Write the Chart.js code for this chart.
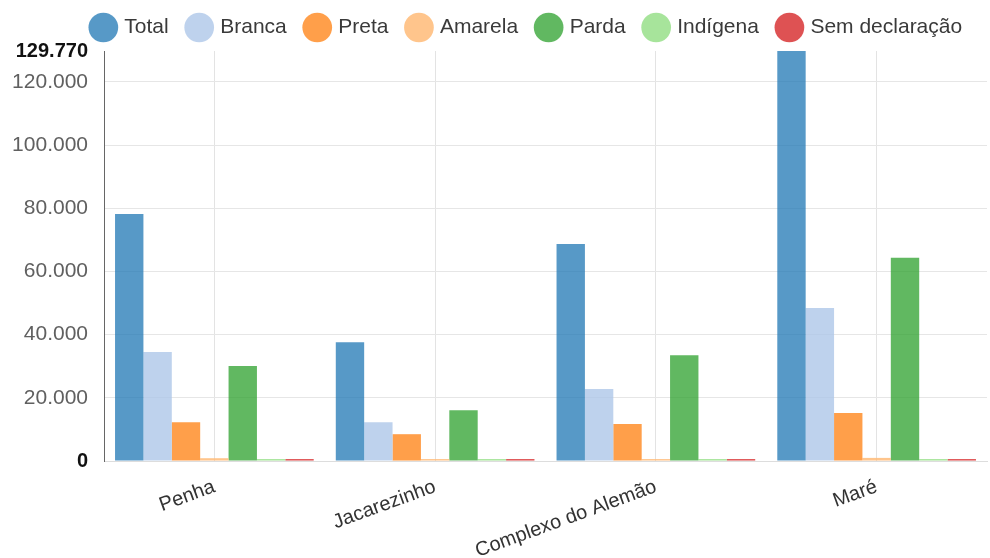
<!DOCTYPE html>
<html>
<head>
<meta charset="utf-8">
<script src="https://cdn.jsdelivr.net/npm/chart.js@4"></script>
<style>
  html, body { margin: 0; padding: 0; background: #fff; }
  #wrap { width: 990px; height: 558px; }
</style>
</head>
<body>
<div id="wrap"><canvas id="grafico"></canvas></div>
<script>
// dados
const bairros = ['Penha', 'Jacarezinho', 'Complexo do Alemão', 'Maré']
const total = [78200, 37600, 68700, 129770]
const branca = [34500, 12300, 22800, 48400]
const preta = [12300, 8500, 11700, 15200]
const amarela = [900, 300, 400, 1000]
const parda = [30100, 16100, 33500, 64300]
const indigena = [100, 50, 100, 100]
const semDeclaracao = [300, 200, 200, 300]
const ticksY = [0, 20000, 40000, 60000, 80000, 100000, 120000, 129770]
const valorMaximo = 129770

const fmt = v => String(Math.round(v)).replace(/\B(?=(\d{3})+(?!\d))/g, '.')
const fonte = 'Liberation Sans, Arial, sans-serif'
const destaque = v => v === valorMaximo || v === 0

// ajustes da legenda: um pouco mais de espaco embaixo e deslocada para a direita
const ajusteLegenda = {
    id: 'ajusteLegenda',
    beforeInit(chart) {
        const fitOriginal = chart.legend.fit
        chart.legend.fit = function () {
            fitOriginal.bind(chart.legend)()
            this.height += 3
        }
    },
    afterLayout(chart) {
        chart.legend.left += 34
        chart.legend.right += 34
    }
}

const ctx = document.querySelector('#grafico').getContext('2d')
const grafico = new Chart(ctx, {
    type: 'bar',
    data: {
        labels: bairros,
        datasets: [
            { label: 'Total', data: total, backgroundColor: 'rgba(31, 119, 180, 0.75)' },
            { label: 'Branca', data: branca, backgroundColor: 'rgba(174, 199, 232, 0.8)' },
            { label: 'Preta', data: preta, backgroundColor: 'rgba(255, 127, 14, 0.75)' },
            { label: 'Amarela', data: amarela, backgroundColor: 'rgba(255, 187, 120, 0.85)' },
            { label: 'Parda', data: parda, backgroundColor: 'rgba(44, 160, 44, 0.75)' },
            { label: 'Indígena', data: indigena, backgroundColor: 'rgba(152, 223, 138, 0.85)' },
            { label: 'Sem declaração', data: semDeclaracao, backgroundColor: 'rgba(214, 39, 40, 0.8)' }
        ]
    },
    plugins: [ajusteLegenda],
    options: {
        responsive: true,
        maintainAspectRatio: false,
        animation: false,
        layout: { padding: { left: 0, right: 3, top: -3, bottom: 0 } },
        datasets: { bar: { barPercentage: 1, categoryPercentage: 0.9, minBarLength: 2 } },
        plugins: {
            tooltip: { enabled: false },
            legend: {
                position: 'top',
                labels: {
                    usePointStyle: true,
                    pointStyle: 'circle',
                    boxWidth: 22,
                    boxHeight: 22,
                    padding: 20,
                    color: '#3a3a3a',
                    font: { family: fonte, size: 21 }
                }
            }
        },
        scales: {
            x: {
                grid: { offset: false, color: '#e3e3e3', drawTicks: false },
                border: { color: '#ddd' },
                afterFit: axis => { axis.height -= 19 },
                ticks: {
                    minRotation: 20,
                    maxRotation: 20,
                    padding: 14,
                    color: '#333',
                    font: { family: fonte, size: 20 }
                }
            },
            y: {
                min: 0,
                max: valorMaximo,
                afterBuildTicks: axis => { axis.ticks = ticksY.map(v => ({ value: v })) },
                afterFit: axis => { axis.width = 104 },
                grid: {
                    color: c => (c.tick && c.tick.value === valorMaximo) ? 'rgba(0,0,0,0)' : '#e6e6e6',
                    drawTicks: false
                },
                border: { color: '#666' },
                ticks: {
                    padding: 16,
                    callback: v => fmt(v),
                    color: c => (c.tick && destaque(c.tick.value)) ? '#111' : '#606060',
                    font: c => (c.tick && destaque(c.tick.value))
                        ? { family: fonte, size: 20, weight: 'bold' }
                        : { family: fonte, size: 21 }
                }
            }
        }
    }
})
</script>
</body>
</html>
